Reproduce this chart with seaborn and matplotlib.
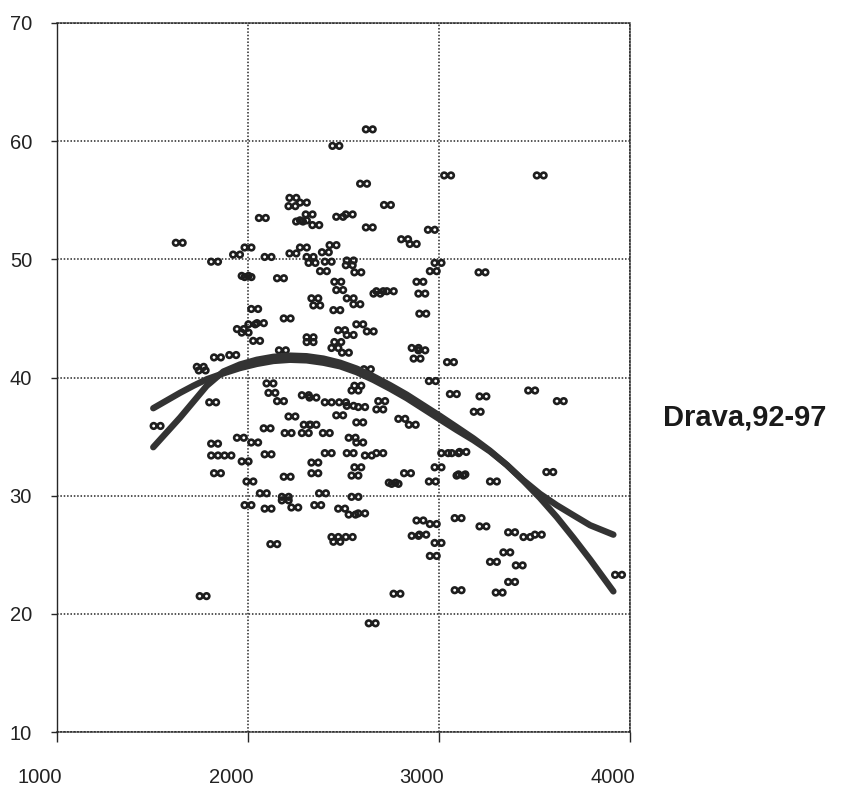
import matplotlib
matplotlib.use("Agg")
import matplotlib.pyplot as plt
import matplotlib.transforms as mtransforms
from matplotlib.path import Path
import seaborn as sns
import pandas as pd

# ---------------- data ----------------
point_x = [2235, 2230, 2075, 2270, 1640, 2000, 1940, 2105, 2235, 1825, 1985, 2000, 2170,
           2635, 2460, 3045, 2605, 2290, 2730, 2320, 2290, 2480, 2530, 2355, 2635, 2960,
           2820, 2865, 2445, 2290, 2405, 2325, 2335, 2420, 2535, 2530, 2995, 2395, 2575,
           2970, 3225, 2470, 2480, 2900, 2690, 2745, 2675, 2910, 2350, 2535,
           2035, 2205, 2065, 2020, 1960, 1985, 2045, 1920, 1840, 1750, 1760, 2180, 2115,
           2125, 2170, 1815, 2230, 1524, 2100, 2210, 1960, 1825, 2035, 1825, 1895, 2105,
           1985, 1840, 2205, 2010, 2080, 2195,
           2360, 2570, 2465, 2915, 2585, 2640, 2490, 2535, 2325, 2325, 2470, 2455, 2510,
           2875, 2910, 2885, 3060, 2625, 2965, 2575, 2560, 3075, 3230, 2300, 2340, 2420,
           2495, 2535, 2595, 2700, 2690, 3200, 2480, 2805, 2860, 2585, 2310, 2340, 2300,
           2410, 2545, 2585, 2420, 2535, 2630, 2690, 3030, 3085, 3125, 2350, 2350, 2575,
           2995, 2560, 2835, 3110, 2755, 2770, 2965, 3285, 2390, 2560,
           3530, 3485, 3635, 3120, 3580,
           2000, 2105, 2195, 2245, 2365, 2490, 2545, 2595, 2455, 2465, 2530, 2135, 1765,
           2650, 2780,
           2900, 2970, 2875, 2915, 2995, 2970, 3100, 3230, 3380, 3460, 3520, 3355, 3285,
           3420, 3380, 3100, 3315, 3940]
point_y = [55.2, 54.5, 53.5, 53.2, 51.4, 51.0, 50.4, 50.2, 50.5, 49.8, 48.6, 48.5, 48.4,
           61.0, 59.6, 57.1, 56.4, 54.8, 54.6, 53.8, 53.3, 53.6, 53.8, 52.9, 52.7, 52.5,
           51.7, 51.3, 51.2, 51.0, 50.6, 50.2, 49.7, 49.8, 49.9, 49.5, 49.7, 49.0, 48.9,
           49.0, 48.9, 48.1, 47.4, 48.1, 47.3, 47.3, 47.1, 47.1, 46.7, 46.7,
           45.8, 45.0, 44.6, 44.5, 44.1, 43.8, 43.1, 41.9, 41.7, 40.9, 40.6, 42.3, 39.5,
           38.7, 38.0, 37.9, 36.7, 35.9, 35.7, 35.3, 34.9, 34.4, 34.5, 33.4, 33.4, 33.5,
           32.9, 31.9, 31.6, 31.2, 30.2, 29.9,
           46.1, 46.2, 45.7, 45.4, 44.5, 43.9, 44.0, 43.6, 43.4, 43.0, 43.0, 42.5, 42.1,
           42.5, 42.3, 41.6, 41.3, 40.7, 39.7, 39.3, 38.9, 38.6, 38.4, 38.5, 38.3, 37.9,
           37.9, 37.6, 37.5, 38.0, 37.3, 37.1, 36.8, 36.5, 36.0, 36.2, 36.0, 36.0, 35.3,
           35.3, 34.9, 34.5, 33.6, 33.6, 33.4, 33.6, 33.6, 33.6, 33.7, 32.8, 31.9, 32.4,
           32.4, 31.7, 31.9, 31.7, 31.1, 31.0, 31.2, 31.2, 30.2, 29.9,
           57.1, 38.9, 38.0, 31.8, 32.0,
           29.2, 28.9, 29.6, 29.0, 29.2, 28.9, 28.4, 28.5, 26.5, 26.1, 26.5, 25.9, 21.5,
           19.2, 21.7,
           27.9, 27.6, 26.6, 26.7, 26.0, 24.9, 28.1, 27.4, 26.9, 26.5, 26.7, 25.2, 24.4,
           24.1, 22.7, 22.0, 21.8, 23.3]

curve_x = [1504, 1574, 1644, 1714, 1784, 1871, 1958, 2046, 2133, 2220, 2307, 2395, 2482,
           2569, 2656, 2744, 2831, 2918, 3005, 3093, 3180, 3267, 3355, 3442, 3529, 3616,
           3703, 3791, 3913]
curve_a_y = [37.4, 38.05, 38.7, 39.3, 39.85, 40.35, 40.8, 41.15, 41.4, 41.5, 41.45, 41.25,
             40.95, 40.45, 39.8, 39.05, 38.25, 37.35, 36.45, 35.55, 34.7, 33.75, 32.6,
             31.3, 30.15, 29.2, 28.35, 27.5, 26.7]
curve_b_y = [34.1, 35.35, 36.6, 37.95, 39.3, 40.5, 41.1, 41.5, 41.75, 41.85, 41.8, 41.6,
             41.25, 40.75, 40.1, 39.35, 38.55, 37.65, 36.75, 35.8, 34.85, 33.8, 32.6,
             31.25, 29.8, 28.2, 26.45, 24.6, 21.9]

x_ticks = [1000, 2000, 3000, 4000]
y_ticks = [10, 20, 30, 40, 50, 60, 70]
label_text = "Drava,92-97"

# ---------------- drawing ----------------
sns.set_style("white")
plt.rcParams["font.family"] = ["Liberation Sans", "DejaVu Sans"]

W, H = 847, 792
fig = plt.figure(figsize=(W / 100, H / 100), dpi=100)
ax = fig.add_axes([57 / W, 1 - 732 / H, (630 - 57) / W, (732 - 23) / H])

ink = "#262626"
dots = (0, (1, 1.2))

# scatter with small double-ring markers
ring = Path.make_compound_path(Path.circle((-0.55, 0), 0.45), Path.circle((0.55, 0), 0.45))
pts = pd.DataFrame({"x": point_x, "y": point_y})
sns.scatterplot(data=pts, x="x", y="y", ax=ax, marker=ring, s=80,
                facecolor="none", edgecolor="#1e1e1e", linewidth=1.9, zorder=3)

curves = pd.DataFrame({"x": curve_x + curve_x,
                       "y": curve_a_y + curve_b_y,
                       "fit": ["a"] * len(curve_x) + ["b"] * len(curve_x)})
for name, grp in curves.groupby("fit"):
    sns.lineplot(data=grp, x="x", y="y", ax=ax, color="#333333", lw=4.6,
                 solid_capstyle="round", solid_joinstyle="round",
                 zorder=4, estimator=None, sort=False)

ax.set_xlim(1000, 4000)
ax.set_ylim(10, 70)
ax.set_xticks(x_ticks)
ax.set_yticks(y_ticks)
ax.set_xlabel("")
ax.set_ylabel("")

ax.grid(True, color=ink, linestyle=dots, linewidth=1.1)
ax.set_axisbelow(True)
for sp in ax.spines.values():
    sp.set_visible(True)
    sp.set_color(ink)
    sp.set_linestyle(dots)
    sp.set_linewidth(1.1)
ax.spines["left"].set_linestyle("-")
ax.spines["left"].set_linewidth(1.0)

ax.tick_params(axis="y", direction="out", length=4, width=1, color=ink,
               labelsize=14.5, labelcolor="#222222", pad=14, left=True)
ax.tick_params(axis="x", direction="out", length=7, width=1, color=ink,
               labelsize=14.5, labelcolor="#222222", pad=19, bottom=True)

shift = mtransforms.ScaledTranslation(-17 / 100, 0, fig.dpi_scale_trans)
for lab in ax.get_xticklabels():
    lab.set_transform(lab.get_transform() + shift)

fig.text(663 / W, 1 - 418 / H, label_text, ha="left", va="center",
         fontsize=21, fontweight="bold", color="#1a1a1a")

fig.savefig("out.png", dpi=100, facecolor="white")
